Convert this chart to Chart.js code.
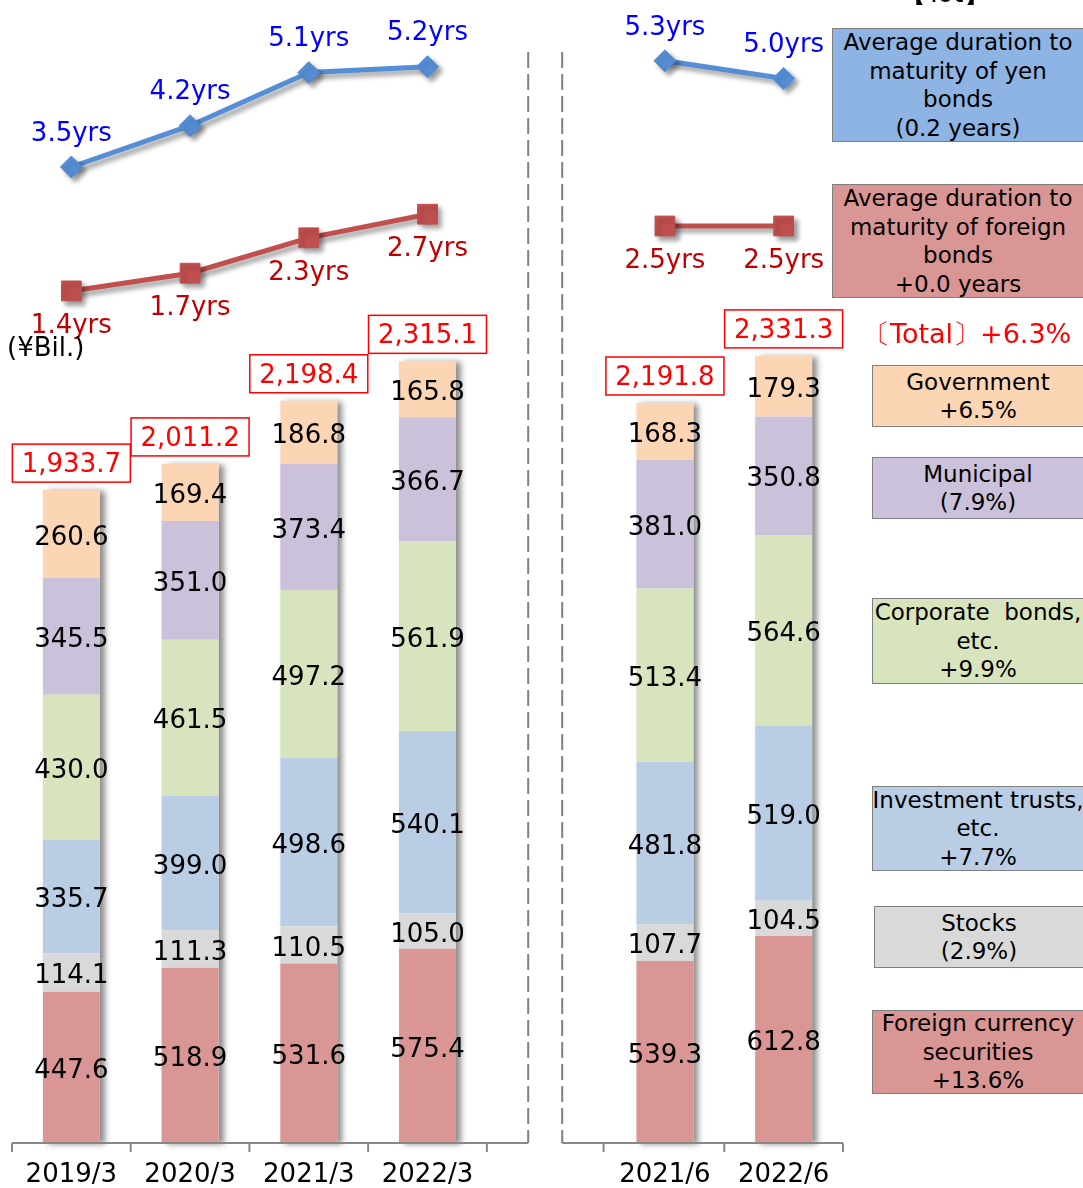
<!DOCTYPE html>
<html>
<head>
<meta charset="utf-8">
<script src="https://cdn.jsdelivr.net/npm/chart.js@4.4.0/dist/chart.umd.min.js"></script>
<style>
body { margin: 0; background: #fff; }
#wrap { position: relative; width: 1083px; height: 1188px; overflow: hidden; font-family: "DejaVu Sans", Verdana, sans-serif; }
#chart { position: absolute; left: 0; top: 0; }
.box { position: absolute; box-sizing: border-box; border: 1.5px solid #7f7f7f; display: flex; flex-direction: column; justify-content: center; align-items: center; font-size: 23px; line-height: 28.5px; color: #000; white-space: nowrap; }
.note { position: absolute; white-space: nowrap; }
</style>
</head>
<body>
<div id="wrap">
  <canvas id="chart" width="1083" height="1188"></canvas>

  <div class="note" style="left:900px; top:-24px; font-size:26px; color:#000;">【Tot】</div>
  <div class="note" style="left:7px; top:332px; font-size:26px; color:#000;">(¥Bil.)</div>
  <div class="note" style="left:863px; top:316px; font-size:27px; color:#ff0000;">〔Total〕+6.3%</div>

  <div class="box" style="left:832px; top:28px; width:252px; height:114px; background:#8db4e2;">
    <div>Average duration to</div><div>maturity of yen</div><div>bonds</div><div>(0.2 years)</div>
  </div>
  <div class="box" style="left:832px; top:184px; width:252px; height:114px; background:#da9694;">
    <div>Average duration to</div><div>maturity of foreign</div><div>bonds</div><div>+0.0 years</div>
  </div>
  <div class="box" style="left:872px; top:365px; width:212px; height:62px; background:#fcd5b5;">
    <div>Government</div><div>+6.5%</div>
  </div>
  <div class="box" style="left:872px; top:457px; width:212px; height:62px; background:#ccc1da;">
    <div>Municipal</div><div>(7.9%)</div>
  </div>
  <div class="box" style="left:872px; top:598px; width:212px; height:86px; background:#d7e4bd;">
    <div>Corporate&nbsp; bonds,</div><div>etc.</div><div>+9.9%</div>
  </div>
  <div class="box" style="left:872px; top:786px; width:212px; height:85px; background:#b9cde5;">
    <div>Investment trusts,</div><div>etc.</div><div>+7.7%</div>
  </div>
  <div class="box" style="left:874px; top:906px; width:210px; height:62px; background:#d9d9d9;">
    <div>Stocks</div><div>(2.9%)</div>
  </div>
  <div class="box" style="left:872px; top:1010px; width:212px; height:84px; background:#da9694;">
    <div>Foreign currency</div><div>securities</div><div>+13.6%</div>
  </div>
</div>

<script>
const categories = ['2019/3', '2020/3', '2021/3', '2022/3', '', '2021/6', '2022/6'];

// holdings by type, ¥ billion (the empty slot splits fiscal years from quarters)
const foreignSecurities = [447.6, 518.9, 531.6, 575.4, null, 539.3, 612.8];
const stocks = [114.1, 111.3, 110.5, 105.0, null, 107.7, 104.5];
const investmentTrusts = [335.7, 399.0, 498.6, 540.1, null, 481.8, 519.0];
const corporateBonds = [430.0, 461.5, 497.2, 561.9, null, 513.4, 564.6];
const municipalBonds = [345.5, 351.0, 373.4, 366.7, null, 381.0, 350.8];
const governmentBonds = [260.6, 169.4, 186.8, 165.8, null, 168.3, 179.3];
const totals = [1933.7, 2011.2, 2198.4, 2315.1, null, 2191.8, 2331.3];

// average duration to maturity, years
const yenDuration = [3.5, 4.2, 5.1, 5.2, null, 5.3, 5.0];
const foreignDuration = [1.4, 1.7, 2.3, 2.7, null, 2.5, 2.5];

const FONT = '"DejaVu Sans", Verdana, sans-serif';

function barSet(label, data, color) {
    return {
        type: 'bar',
        label: label,
        data: data,
        backgroundColor: color,
        borderWidth: 0,
        categoryPercentage: 1,
        barPercentage: 0.48,
        yAxisID: 'y',
        order: 2
    };
}

const lineBlue = '#558ed5';
const lineRed = '#c0504d';

const data = {
    labels: categories,
    datasets: [
        barSet('Foreign currency securities', foreignSecurities, '#da9694'),
        barSet('Stocks', stocks, '#d9d9d9'),
        barSet('Investment trusts, etc.', investmentTrusts, '#b9cde5'),
        barSet('Corporate bonds, etc.', corporateBonds, '#d7e4bd'),
        barSet('Municipal', municipalBonds, '#ccc1da'),
        barSet('Government', governmentBonds, '#fcd5b5'),
        {
            type: 'line',
            label: 'yen bonds',
            data: yenDuration,
            borderColor: lineBlue,
            backgroundColor: lineBlue,
            borderWidth: 5,
            pointStyle: 'rectRot',
            pointRadius: 11,
            pointBackgroundColor: lineBlue,
            pointBorderColor: lineBlue,
            pointBorderWidth: 1,
            spanGaps: false,
            yAxisID: 'y2',
            order: 1,
            clip: false
        },
        {
            type: 'line',
            label: 'foreign bonds',
            data: foreignDuration,
            borderColor: lineRed,
            backgroundColor: lineRed,
            borderWidth: 5,
            pointStyle: 'rect',
            pointRadius: 14,
            pointBackgroundColor: lineRed,
            pointBorderColor: lineRed,
            pointBorderWidth: 1,
            spanGaps: false,
            yAxisID: 'y2',
            order: 1,
            clip: false
        }
    ]
};

// soft drop shadow behind each stacked column and under the lines
const shadows = {
    id: 'shadows',
    beforeDatasetsDraw(chart) {
        const ctx = chart.ctx;
        const bottom = chart.getDatasetMeta(0);
        const top = chart.getDatasetMeta(5);
        ctx.save();
        ctx.shadowColor = 'rgba(0,0,0,0.45)';
        ctx.shadowBlur = 6;
        ctx.shadowOffsetX = 5;
        ctx.shadowOffsetY = 1;
        ctx.fillStyle = '#ffffff';
        totals.forEach((t, i) => {
            if (t === null) return;
            const b = bottom.data[i];
            const tp = top.data[i];
            ctx.fillRect(b.x - b.width / 2, tp.y, b.width, b.base - tp.y);
        });
        ctx.restore();
    },
    beforeDatasetDraw(chart, args) {
        if (args.meta.type !== 'line') return;
        const ctx = chart.ctx;
        ctx.save();
        ctx.shadowColor = 'rgba(0,0,0,0.4)';
        ctx.shadowBlur = 5;
        ctx.shadowOffsetX = 4;
        ctx.shadowOffsetY = 4;
    },
    afterDatasetDraw(chart, args) {
        if (args.meta.type !== 'line') return;
        chart.ctx.restore();
    }
};

// category axis split in two, with the dashed separators
const splitAxis = {
    id: 'splitAxis',
    afterDraw(chart) {
        const ctx = chart.ctx;
        const x = chart.scales.x;
        const area = chart.chartArea;
        const step = x.getPixelForValue(1) - x.getPixelForValue(0);
        const gapMid = x.getPixelForValue(4);
        const sepL = gapMid - 18;
        const sepR = gapMid + 16;
        const y = area.bottom;

        ctx.save();
        ctx.strokeStyle = '#888888';
        ctx.lineWidth = 2;
        ctx.beginPath();
        ctx.moveTo(area.left, y);
        ctx.lineTo(sepL, y);
        ctx.moveTo(sepR, y);
        ctx.lineTo(area.right, y);
        for (let i = 0; i <= categories.length; i++) {
            if (i === 5) continue;
            const tx = area.left + i * step;
            ctx.moveTo(tx, y);
            ctx.lineTo(tx, y + 9);
        }
        const tx5 = area.left + 5 * step - 2;
        ctx.moveTo(tx5, y);
        ctx.lineTo(tx5, y + 9);
        ctx.stroke();

        ctx.setLineDash([16, 6]);
        ctx.strokeStyle = '#808080';
        ctx.beginPath();
        ctx.moveTo(sepL, 52);
        ctx.lineTo(sepL, y);
        ctx.moveTo(sepR, 52);
        ctx.lineTo(sepR, y);
        ctx.stroke();
        ctx.setLineDash([]);

        ctx.fillStyle = '#000';
        ctx.font = '26px ' + FONT;
        ctx.textAlign = 'center';
        ctx.textBaseline = 'middle';
        categories.forEach((c, i) => {
            if (c) ctx.fillText(c, x.getPixelForValue(i), y + 32);
        });
        ctx.restore();
    }
};

// segment values, boxed totals and duration labels
const valueLabels = {
    id: 'valueLabels',
    afterDatasetsDraw(chart) {
        const ctx = chart.ctx;
        ctx.save();
        ctx.font = '26px ' + FONT;
        ctx.textAlign = 'center';
        ctx.textBaseline = 'middle';

        for (let d = 0; d < 6; d++) {
            const meta = chart.getDatasetMeta(d);
            const vals = chart.data.datasets[d].data;
            meta.data.forEach((bar, i) => {
                if (vals[i] === null) return;
                ctx.fillStyle = '#000';
                ctx.fillText(vals[i].toFixed(1), bar.x, (bar.y + bar.base) / 2 + 4);
            });
        }

        const top = chart.getDatasetMeta(5);
        totals.forEach((t, i) => {
            if (t === null) return;
            const bar = top.data[i];
            const w = 118, h = 38;
            const by = bar.y - 8 - h;
            ctx.fillStyle = '#ffffff';
            ctx.fillRect(bar.x - w / 2, by, w, h);
            ctx.strokeStyle = '#ff0000';
            ctx.lineWidth = 1.5;
            ctx.strokeRect(bar.x - w / 2, by, w, h);
            ctx.fillStyle = '#ff0000';
            const txt = t.toLocaleString('en-US', { minimumFractionDigits: 1, maximumFractionDigits: 1 });
            ctx.fillText(txt, bar.x, by + h / 2 + 2);
        });

        const yen = chart.getDatasetMeta(6);
        ctx.fillStyle = '#0000ff';
        yenDuration.forEach((v, i) => {
            if (v === null) return;
            const p = yen.data[i];
            ctx.fillText(v.toFixed(1) + 'yrs', p.x, p.y - 33);
        });

        const fx = chart.getDatasetMeta(7);
        ctx.fillStyle = '#c00000';
        foreignDuration.forEach((v, i) => {
            if (v === null) return;
            const p = fx.data[i];
            ctx.fillText(v.toFixed(1) + 'yrs', p.x, p.y + 35);
        });
        ctx.restore();
    }
};

new Chart(document.getElementById('chart').getContext('2d'), {
    data: data,
    options: {
        responsive: false,
        animation: false,
        layout: { autoPadding: false, padding: { left: 12, right: 240, top: 0, bottom: 45 } },
        plugins: {
            legend: { display: false },
            tooltip: { enabled: false }
        },
        scales: {
            x: { display: false, stacked: true },
            y: { display: false, stacked: true, min: 0, max: 3385 },
            y2: { display: false, min: -13.04, max: 6.33 }
        }
    },
    plugins: [shadows, splitAxis, valueLabels]
});
</script>
</body>
</html>
